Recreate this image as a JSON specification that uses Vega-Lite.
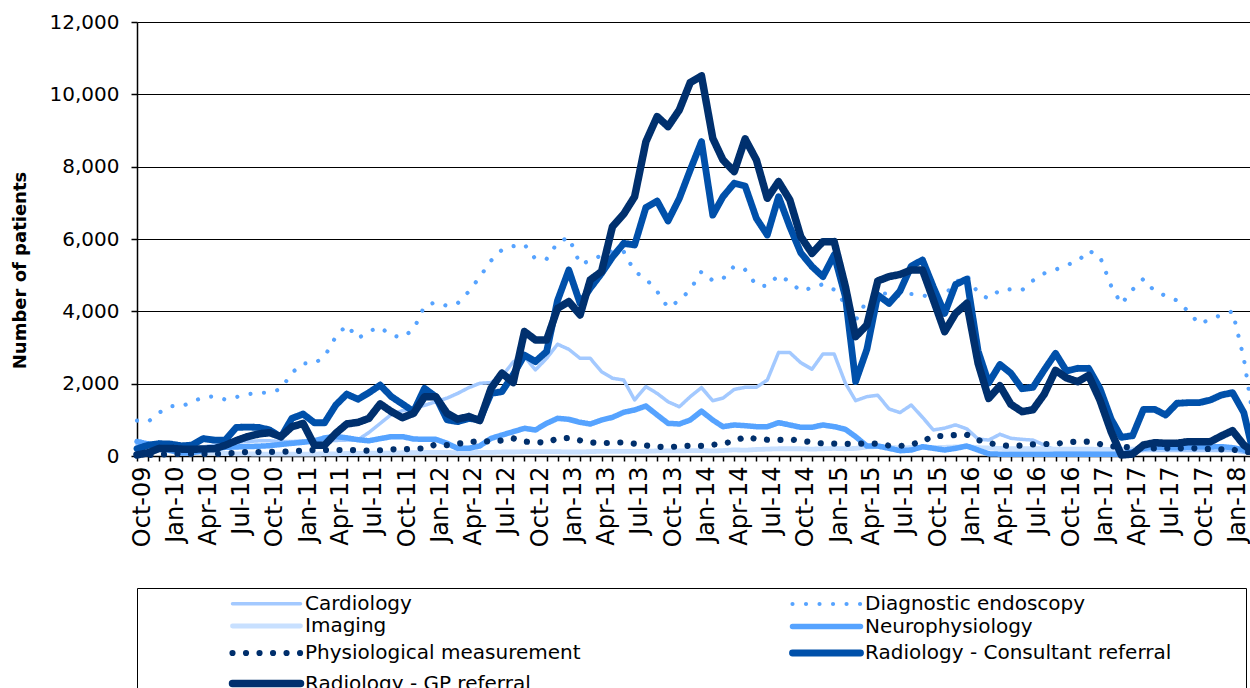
{
"$schema": "https://vega.github.io/schema/vega-lite/v6.json",
"autosize": {"type": "none"},
"padding": {"left": 137, "top": 22, "right": 0, "bottom": 232},
"width": 1113,
"height": 434,
"background": "white",
"config": {"view": {"stroke": null}, "font": "DejaVu Sans"},
"datasets": {"rows": [
{"s":"Cardiology","d":"2009-10-01","v":300},{"s":"Cardiology","d":"2009-11-01","v":250},{"s":"Cardiology","d":"2009-12-01","v":230},{"s":"Cardiology","d":"2010-01-01","v":220},{"s":"Cardiology","d":"2010-02-01","v":200},{"s":"Cardiology","d":"2010-03-01","v":220},{"s":"Cardiology","d":"2010-04-01","v":250},{"s":"Cardiology","d":"2010-05-01","v":300},{"s":"Cardiology","d":"2010-06-01","v":350},{"s":"Cardiology","d":"2010-07-01","v":380},{"s":"Cardiology","d":"2010-08-01","v":400},{"s":"Cardiology","d":"2010-09-01","v":420},{"s":"Cardiology","d":"2010-10-01","v":420},{"s":"Cardiology","d":"2010-11-01","v":400},{"s":"Cardiology","d":"2010-12-01","v":400},{"s":"Cardiology","d":"2011-01-01","v":420},{"s":"Cardiology","d":"2011-02-01","v":420},{"s":"Cardiology","d":"2011-03-01","v":430},{"s":"Cardiology","d":"2011-04-01","v":430},{"s":"Cardiology","d":"2011-05-01","v":440},{"s":"Cardiology","d":"2011-06-01","v":450},{"s":"Cardiology","d":"2011-07-01","v":650},{"s":"Cardiology","d":"2011-08-01","v":900},{"s":"Cardiology","d":"2011-09-01","v":1150},{"s":"Cardiology","d":"2011-10-01","v":1250},{"s":"Cardiology","d":"2011-11-01","v":1320},{"s":"Cardiology","d":"2011-12-01","v":1400},{"s":"Cardiology","d":"2012-01-01","v":1500},{"s":"Cardiology","d":"2012-02-01","v":1600},{"s":"Cardiology","d":"2012-03-01","v":1730},{"s":"Cardiology","d":"2012-04-01","v":1890},{"s":"Cardiology","d":"2012-05-01","v":2010},{"s":"Cardiology","d":"2012-06-01","v":2030},{"s":"Cardiology","d":"2012-07-01","v":2200},{"s":"Cardiology","d":"2012-08-01","v":2600},{"s":"Cardiology","d":"2012-09-01","v":2750},{"s":"Cardiology","d":"2012-10-01","v":2380},{"s":"Cardiology","d":"2012-11-01","v":2700},{"s":"Cardiology","d":"2012-12-01","v":3090},{"s":"Cardiology","d":"2013-01-01","v":2950},{"s":"Cardiology","d":"2013-02-01","v":2700},{"s":"Cardiology","d":"2013-03-01","v":2700},{"s":"Cardiology","d":"2013-04-01","v":2330},{"s":"Cardiology","d":"2013-05-01","v":2150},{"s":"Cardiology","d":"2013-06-01","v":2100},{"s":"Cardiology","d":"2013-07-01","v":1550},{"s":"Cardiology","d":"2013-08-01","v":1920},{"s":"Cardiology","d":"2013-09-01","v":1730},{"s":"Cardiology","d":"2013-10-01","v":1500},{"s":"Cardiology","d":"2013-11-01","v":1360},{"s":"Cardiology","d":"2013-12-01","v":1640},{"s":"Cardiology","d":"2014-01-01","v":1890},{"s":"Cardiology","d":"2014-02-01","v":1530},{"s":"Cardiology","d":"2014-03-01","v":1600},{"s":"Cardiology","d":"2014-04-01","v":1840},{"s":"Cardiology","d":"2014-05-01","v":1900},{"s":"Cardiology","d":"2014-06-01","v":1900},{"s":"Cardiology","d":"2014-07-01","v":2100},{"s":"Cardiology","d":"2014-08-01","v":2860},{"s":"Cardiology","d":"2014-09-01","v":2860},{"s":"Cardiology","d":"2014-10-01","v":2580},{"s":"Cardiology","d":"2014-11-01","v":2400},{"s":"Cardiology","d":"2014-12-01","v":2820},{"s":"Cardiology","d":"2015-01-01","v":2820},{"s":"Cardiology","d":"2015-02-01","v":2010},{"s":"Cardiology","d":"2015-03-01","v":1530},{"s":"Cardiology","d":"2015-04-01","v":1640},{"s":"Cardiology","d":"2015-05-01","v":1680},{"s":"Cardiology","d":"2015-06-01","v":1300},{"s":"Cardiology","d":"2015-07-01","v":1200},{"s":"Cardiology","d":"2015-08-01","v":1410},{"s":"Cardiology","d":"2015-09-01","v":1070},{"s":"Cardiology","d":"2015-10-01","v":720},{"s":"Cardiology","d":"2015-11-01","v":770},{"s":"Cardiology","d":"2015-12-01","v":860},{"s":"Cardiology","d":"2016-01-01","v":750},{"s":"Cardiology","d":"2016-02-01","v":470},{"s":"Cardiology","d":"2016-03-01","v":440},{"s":"Cardiology","d":"2016-04-01","v":600},{"s":"Cardiology","d":"2016-05-01","v":490},{"s":"Cardiology","d":"2016-06-01","v":460},{"s":"Cardiology","d":"2016-07-01","v":440},{"s":"Cardiology","d":"2016-08-01","v":300},{"s":"Cardiology","d":"2016-09-01","v":150},{"s":"Cardiology","d":"2016-10-01","v":120},{"s":"Cardiology","d":"2016-11-01","v":100},{"s":"Cardiology","d":"2016-12-01","v":100},{"s":"Cardiology","d":"2017-01-01","v":100},{"s":"Cardiology","d":"2017-02-01","v":100},{"s":"Cardiology","d":"2017-03-01","v":100},{"s":"Cardiology","d":"2017-04-01","v":120},{"s":"Cardiology","d":"2017-05-01","v":150},{"s":"Cardiology","d":"2017-06-01","v":150},{"s":"Cardiology","d":"2017-07-01","v":150},{"s":"Cardiology","d":"2017-08-01","v":150},{"s":"Cardiology","d":"2017-09-01","v":150},{"s":"Cardiology","d":"2017-10-01","v":150},{"s":"Cardiology","d":"2017-11-01","v":150},{"s":"Cardiology","d":"2017-12-01","v":150},{"s":"Cardiology","d":"2018-01-01","v":150},{"s":"Cardiology","d":"2018-02-01","v":100},{"s":"Cardiology","d":"2018-03-01","v":80},
{"s":"Diagnostic endoscopy","d":"2009-10-01","v":980},{"s":"Diagnostic endoscopy","d":"2009-11-01","v":950},{"s":"Diagnostic endoscopy","d":"2009-12-01","v":1200},{"s":"Diagnostic endoscopy","d":"2010-01-01","v":1380},{"s":"Diagnostic endoscopy","d":"2010-02-01","v":1370},{"s":"Diagnostic endoscopy","d":"2010-03-01","v":1500},{"s":"Diagnostic endoscopy","d":"2010-04-01","v":1620},{"s":"Diagnostic endoscopy","d":"2010-05-01","v":1650},{"s":"Diagnostic endoscopy","d":"2010-06-01","v":1560},{"s":"Diagnostic endoscopy","d":"2010-07-01","v":1630},{"s":"Diagnostic endoscopy","d":"2010-08-01","v":1710},{"s":"Diagnostic endoscopy","d":"2010-09-01","v":1740},{"s":"Diagnostic endoscopy","d":"2010-10-01","v":1760},{"s":"Diagnostic endoscopy","d":"2010-11-01","v":1850},{"s":"Diagnostic endoscopy","d":"2010-12-01","v":2300},{"s":"Diagnostic endoscopy","d":"2011-01-01","v":2560},{"s":"Diagnostic endoscopy","d":"2011-02-01","v":2560},{"s":"Diagnostic endoscopy","d":"2011-03-01","v":2750},{"s":"Diagnostic endoscopy","d":"2011-04-01","v":3300},{"s":"Diagnostic endoscopy","d":"2011-05-01","v":3620},{"s":"Diagnostic endoscopy","d":"2011-06-01","v":3250},{"s":"Diagnostic endoscopy","d":"2011-07-01","v":3450},{"s":"Diagnostic endoscopy","d":"2011-08-01","v":3560},{"s":"Diagnostic endoscopy","d":"2011-09-01","v":3330},{"s":"Diagnostic endoscopy","d":"2011-10-01","v":3280},{"s":"Diagnostic endoscopy","d":"2011-11-01","v":3500},{"s":"Diagnostic endoscopy","d":"2011-12-01","v":4150},{"s":"Diagnostic endoscopy","d":"2012-01-01","v":4250},{"s":"Diagnostic endoscopy","d":"2012-02-01","v":4150},{"s":"Diagnostic endoscopy","d":"2012-03-01","v":4220},{"s":"Diagnostic endoscopy","d":"2012-04-01","v":4550},{"s":"Diagnostic endoscopy","d":"2012-05-01","v":4950},{"s":"Diagnostic endoscopy","d":"2012-06-01","v":5400},{"s":"Diagnostic endoscopy","d":"2012-07-01","v":5700},{"s":"Diagnostic endoscopy","d":"2012-08-01","v":5800},{"s":"Diagnostic endoscopy","d":"2012-09-01","v":5850},{"s":"Diagnostic endoscopy","d":"2012-10-01","v":5450},{"s":"Diagnostic endoscopy","d":"2012-11-01","v":5450},{"s":"Diagnostic endoscopy","d":"2012-12-01","v":5900},{"s":"Diagnostic endoscopy","d":"2013-01-01","v":6050},{"s":"Diagnostic endoscopy","d":"2013-02-01","v":5300},{"s":"Diagnostic endoscopy","d":"2013-03-01","v":5400},{"s":"Diagnostic endoscopy","d":"2013-04-01","v":5550},{"s":"Diagnostic endoscopy","d":"2013-05-01","v":5670},{"s":"Diagnostic endoscopy","d":"2013-06-01","v":5650},{"s":"Diagnostic endoscopy","d":"2013-07-01","v":5100},{"s":"Diagnostic endoscopy","d":"2013-08-01","v":4900},{"s":"Diagnostic endoscopy","d":"2013-09-01","v":4550},{"s":"Diagnostic endoscopy","d":"2013-10-01","v":4100},{"s":"Diagnostic endoscopy","d":"2013-11-01","v":4300},{"s":"Diagnostic endoscopy","d":"2013-12-01","v":4600},{"s":"Diagnostic endoscopy","d":"2014-01-01","v":5100},{"s":"Diagnostic endoscopy","d":"2014-02-01","v":4850},{"s":"Diagnostic endoscopy","d":"2014-03-01","v":4900},{"s":"Diagnostic endoscopy","d":"2014-04-01","v":5250},{"s":"Diagnostic endoscopy","d":"2014-05-01","v":5150},{"s":"Diagnostic endoscopy","d":"2014-06-01","v":4720},{"s":"Diagnostic endoscopy","d":"2014-07-01","v":4700},{"s":"Diagnostic endoscopy","d":"2014-08-01","v":5000},{"s":"Diagnostic endoscopy","d":"2014-09-01","v":4820},{"s":"Diagnostic endoscopy","d":"2014-10-01","v":4560},{"s":"Diagnostic endoscopy","d":"2014-11-01","v":4650},{"s":"Diagnostic endoscopy","d":"2014-12-01","v":4750},{"s":"Diagnostic endoscopy","d":"2015-01-01","v":4600},{"s":"Diagnostic endoscopy","d":"2015-02-01","v":4200},{"s":"Diagnostic endoscopy","d":"2015-03-01","v":3750},{"s":"Diagnostic endoscopy","d":"2015-04-01","v":4300},{"s":"Diagnostic endoscopy","d":"2015-05-01","v":4480},{"s":"Diagnostic endoscopy","d":"2015-06-01","v":4500},{"s":"Diagnostic endoscopy","d":"2015-07-01","v":4420},{"s":"Diagnostic endoscopy","d":"2015-08-01","v":4480},{"s":"Diagnostic endoscopy","d":"2015-09-01","v":4450},{"s":"Diagnostic endoscopy","d":"2015-10-01","v":4350},{"s":"Diagnostic endoscopy","d":"2015-11-01","v":4450},{"s":"Diagnostic endoscopy","d":"2015-12-01","v":4800},{"s":"Diagnostic endoscopy","d":"2016-01-01","v":5000},{"s":"Diagnostic endoscopy","d":"2016-02-01","v":4500},{"s":"Diagnostic endoscopy","d":"2016-03-01","v":4350},{"s":"Diagnostic endoscopy","d":"2016-04-01","v":4590},{"s":"Diagnostic endoscopy","d":"2016-05-01","v":4610},{"s":"Diagnostic endoscopy","d":"2016-06-01","v":4590},{"s":"Diagnostic endoscopy","d":"2016-07-01","v":4850},{"s":"Diagnostic endoscopy","d":"2016-08-01","v":5050},{"s":"Diagnostic endoscopy","d":"2016-09-01","v":5150},{"s":"Diagnostic endoscopy","d":"2016-10-01","v":5280},{"s":"Diagnostic endoscopy","d":"2016-11-01","v":5380},{"s":"Diagnostic endoscopy","d":"2016-12-01","v":5680},{"s":"Diagnostic endoscopy","d":"2017-01-01","v":5520},{"s":"Diagnostic endoscopy","d":"2017-02-01","v":4700},{"s":"Diagnostic endoscopy","d":"2017-03-01","v":4200},{"s":"Diagnostic endoscopy","d":"2017-04-01","v":4600},{"s":"Diagnostic endoscopy","d":"2017-05-01","v":4900},{"s":"Diagnostic endoscopy","d":"2017-06-01","v":4550},{"s":"Diagnostic endoscopy","d":"2017-07-01","v":4430},{"s":"Diagnostic endoscopy","d":"2017-08-01","v":4300},{"s":"Diagnostic endoscopy","d":"2017-09-01","v":4000},{"s":"Diagnostic endoscopy","d":"2017-10-01","v":3650},{"s":"Diagnostic endoscopy","d":"2017-11-01","v":3780},{"s":"Diagnostic endoscopy","d":"2017-12-01","v":3900},{"s":"Diagnostic endoscopy","d":"2018-01-01","v":4000},{"s":"Diagnostic endoscopy","d":"2018-02-01","v":2700},{"s":"Diagnostic endoscopy","d":"2018-03-01","v":900},
{"s":"Imaging","d":"2009-10-01","v":220},{"s":"Imaging","d":"2009-11-01","v":200},{"s":"Imaging","d":"2009-12-01","v":170},{"s":"Imaging","d":"2010-01-01","v":140},{"s":"Imaging","d":"2010-02-01","v":120},{"s":"Imaging","d":"2010-03-01","v":100},{"s":"Imaging","d":"2010-04-01","v":90},{"s":"Imaging","d":"2010-05-01","v":80},{"s":"Imaging","d":"2010-06-01","v":70},{"s":"Imaging","d":"2010-07-01","v":60},{"s":"Imaging","d":"2010-08-01","v":60},{"s":"Imaging","d":"2010-09-01","v":50},{"s":"Imaging","d":"2010-10-01","v":50},{"s":"Imaging","d":"2010-11-01","v":50},{"s":"Imaging","d":"2010-12-01","v":50},{"s":"Imaging","d":"2011-01-01","v":50},{"s":"Imaging","d":"2011-02-01","v":50},{"s":"Imaging","d":"2011-03-01","v":60},{"s":"Imaging","d":"2011-04-01","v":60},{"s":"Imaging","d":"2011-05-01","v":70},{"s":"Imaging","d":"2011-06-01","v":70},{"s":"Imaging","d":"2011-07-01","v":80},{"s":"Imaging","d":"2011-08-01","v":80},{"s":"Imaging","d":"2011-09-01","v":80},{"s":"Imaging","d":"2011-10-01","v":90},{"s":"Imaging","d":"2011-11-01","v":90},{"s":"Imaging","d":"2011-12-01","v":100},{"s":"Imaging","d":"2012-01-01","v":100},{"s":"Imaging","d":"2012-02-01","v":100},{"s":"Imaging","d":"2012-03-01","v":90},{"s":"Imaging","d":"2012-04-01","v":90},{"s":"Imaging","d":"2012-05-01","v":100},{"s":"Imaging","d":"2012-06-01","v":100},{"s":"Imaging","d":"2012-07-01","v":110},{"s":"Imaging","d":"2012-08-01","v":110},{"s":"Imaging","d":"2012-09-01","v":120},{"s":"Imaging","d":"2012-10-01","v":120},{"s":"Imaging","d":"2012-11-01","v":120},{"s":"Imaging","d":"2012-12-01","v":120},{"s":"Imaging","d":"2013-01-01","v":110},{"s":"Imaging","d":"2013-02-01","v":110},{"s":"Imaging","d":"2013-03-01","v":120},{"s":"Imaging","d":"2013-04-01","v":130},{"s":"Imaging","d":"2013-05-01","v":130},{"s":"Imaging","d":"2013-06-01","v":130},{"s":"Imaging","d":"2013-07-01","v":130},{"s":"Imaging","d":"2013-08-01","v":130},{"s":"Imaging","d":"2013-09-01","v":140},{"s":"Imaging","d":"2013-10-01","v":140},{"s":"Imaging","d":"2013-11-01","v":140},{"s":"Imaging","d":"2013-12-01","v":150},{"s":"Imaging","d":"2014-01-01","v":150},{"s":"Imaging","d":"2014-02-01","v":140},{"s":"Imaging","d":"2014-03-01","v":150},{"s":"Imaging","d":"2014-04-01","v":170},{"s":"Imaging","d":"2014-05-01","v":160},{"s":"Imaging","d":"2014-06-01","v":180},{"s":"Imaging","d":"2014-07-01","v":190},{"s":"Imaging","d":"2014-08-01","v":200},{"s":"Imaging","d":"2014-09-01","v":200},{"s":"Imaging","d":"2014-10-01","v":200},{"s":"Imaging","d":"2014-11-01","v":190},{"s":"Imaging","d":"2014-12-01","v":200},{"s":"Imaging","d":"2015-01-01","v":210},{"s":"Imaging","d":"2015-02-01","v":200},{"s":"Imaging","d":"2015-03-01","v":210},{"s":"Imaging","d":"2015-04-01","v":250},{"s":"Imaging","d":"2015-05-01","v":260},{"s":"Imaging","d":"2015-06-01","v":240},{"s":"Imaging","d":"2015-07-01","v":220},{"s":"Imaging","d":"2015-08-01","v":230},{"s":"Imaging","d":"2015-09-01","v":240},{"s":"Imaging","d":"2015-10-01","v":230},{"s":"Imaging","d":"2015-11-01","v":240},{"s":"Imaging","d":"2015-12-01","v":250},{"s":"Imaging","d":"2016-01-01","v":260},{"s":"Imaging","d":"2016-02-01","v":230},{"s":"Imaging","d":"2016-03-01","v":220},{"s":"Imaging","d":"2016-04-01","v":210},{"s":"Imaging","d":"2016-05-01","v":200},{"s":"Imaging","d":"2016-06-01","v":200},{"s":"Imaging","d":"2016-07-01","v":200},{"s":"Imaging","d":"2016-08-01","v":200},{"s":"Imaging","d":"2016-09-01","v":190},{"s":"Imaging","d":"2016-10-01","v":190},{"s":"Imaging","d":"2016-11-01","v":190},{"s":"Imaging","d":"2016-12-01","v":190},{"s":"Imaging","d":"2017-01-01","v":180},{"s":"Imaging","d":"2017-02-01","v":180},{"s":"Imaging","d":"2017-03-01","v":180},{"s":"Imaging","d":"2017-04-01","v":190},{"s":"Imaging","d":"2017-05-01","v":200},{"s":"Imaging","d":"2017-06-01","v":200},{"s":"Imaging","d":"2017-07-01","v":210},{"s":"Imaging","d":"2017-08-01","v":220},{"s":"Imaging","d":"2017-09-01","v":230},{"s":"Imaging","d":"2017-10-01","v":230},{"s":"Imaging","d":"2017-11-01","v":230},{"s":"Imaging","d":"2017-12-01","v":240},{"s":"Imaging","d":"2018-01-01","v":220},{"s":"Imaging","d":"2018-02-01","v":180},{"s":"Imaging","d":"2018-03-01","v":150},
{"s":"Neurophysiology","d":"2009-10-01","v":400},{"s":"Neurophysiology","d":"2009-11-01","v":330},{"s":"Neurophysiology","d":"2009-12-01","v":250},{"s":"Neurophysiology","d":"2010-01-01","v":150},{"s":"Neurophysiology","d":"2010-02-01","v":80},{"s":"Neurophysiology","d":"2010-03-01","v":90},{"s":"Neurophysiology","d":"2010-04-01","v":150},{"s":"Neurophysiology","d":"2010-05-01","v":200},{"s":"Neurophysiology","d":"2010-06-01","v":240},{"s":"Neurophysiology","d":"2010-07-01","v":250},{"s":"Neurophysiology","d":"2010-08-01","v":260},{"s":"Neurophysiology","d":"2010-09-01","v":270},{"s":"Neurophysiology","d":"2010-10-01","v":285},{"s":"Neurophysiology","d":"2010-11-01","v":320},{"s":"Neurophysiology","d":"2010-12-01","v":350},{"s":"Neurophysiology","d":"2011-01-01","v":380},{"s":"Neurophysiology","d":"2011-02-01","v":420},{"s":"Neurophysiology","d":"2011-03-01","v":500},{"s":"Neurophysiology","d":"2011-04-01","v":540},{"s":"Neurophysiology","d":"2011-05-01","v":500},{"s":"Neurophysiology","d":"2011-06-01","v":450},{"s":"Neurophysiology","d":"2011-07-01","v":420},{"s":"Neurophysiology","d":"2011-08-01","v":480},{"s":"Neurophysiology","d":"2011-09-01","v":535},{"s":"Neurophysiology","d":"2011-10-01","v":535},{"s":"Neurophysiology","d":"2011-11-01","v":470},{"s":"Neurophysiology","d":"2011-12-01","v":461},{"s":"Neurophysiology","d":"2012-01-01","v":461},{"s":"Neurophysiology","d":"2012-02-01","v":350},{"s":"Neurophysiology","d":"2012-03-01","v":212},{"s":"Neurophysiology","d":"2012-04-01","v":212},{"s":"Neurophysiology","d":"2012-05-01","v":277},{"s":"Neurophysiology","d":"2012-06-01","v":488},{"s":"Neurophysiology","d":"2012-07-01","v":580},{"s":"Neurophysiology","d":"2012-08-01","v":673},{"s":"Neurophysiology","d":"2012-09-01","v":765},{"s":"Neurophysiology","d":"2012-10-01","v":719},{"s":"Neurophysiology","d":"2012-11-01","v":903},{"s":"Neurophysiology","d":"2012-12-01","v":1041},{"s":"Neurophysiology","d":"2013-01-01","v":1014},{"s":"Neurophysiology","d":"2013-02-01","v":931},{"s":"Neurophysiology","d":"2013-03-01","v":885},{"s":"Neurophysiology","d":"2013-04-01","v":995},{"s":"Neurophysiology","d":"2013-05-01","v":1069},{"s":"Neurophysiology","d":"2013-06-01","v":1208},{"s":"Neurophysiology","d":"2013-07-01","v":1272},{"s":"Neurophysiology","d":"2013-08-01","v":1382},{"s":"Neurophysiology","d":"2013-09-01","v":1134},{"s":"Neurophysiology","d":"2013-10-01","v":903},{"s":"Neurophysiology","d":"2013-11-01","v":885},{"s":"Neurophysiology","d":"2013-12-01","v":995},{"s":"Neurophysiology","d":"2014-01-01","v":1240},{"s":"Neurophysiology","d":"2014-02-01","v":995},{"s":"Neurophysiology","d":"2014-03-01","v":811},{"s":"Neurophysiology","d":"2014-04-01","v":857},{"s":"Neurophysiology","d":"2014-05-01","v":839},{"s":"Neurophysiology","d":"2014-06-01","v":811},{"s":"Neurophysiology","d":"2014-07-01","v":811},{"s":"Neurophysiology","d":"2014-08-01","v":922},{"s":"Neurophysiology","d":"2014-09-01","v":857},{"s":"Neurophysiology","d":"2014-10-01","v":793},{"s":"Neurophysiology","d":"2014-11-01","v":793},{"s":"Neurophysiology","d":"2014-12-01","v":857},{"s":"Neurophysiology","d":"2015-01-01","v":811},{"s":"Neurophysiology","d":"2015-02-01","v":737},{"s":"Neurophysiology","d":"2015-03-01","v":535},{"s":"Neurophysiology","d":"2015-04-01","v":276},{"s":"Neurophysiology","d":"2015-05-01","v":276},{"s":"Neurophysiology","d":"2015-06-01","v":212},{"s":"Neurophysiology","d":"2015-07-01","v":147},{"s":"Neurophysiology","d":"2015-08-01","v":166},{"s":"Neurophysiology","d":"2015-09-01","v":258},{"s":"Neurophysiology","d":"2015-10-01","v":212},{"s":"Neurophysiology","d":"2015-11-01","v":166},{"s":"Neurophysiology","d":"2015-12-01","v":212},{"s":"Neurophysiology","d":"2016-01-01","v":276},{"s":"Neurophysiology","d":"2016-02-01","v":166},{"s":"Neurophysiology","d":"2016-03-01","v":60},{"s":"Neurophysiology","d":"2016-04-01","v":50},{"s":"Neurophysiology","d":"2016-05-01","v":50},{"s":"Neurophysiology","d":"2016-06-01","v":50},{"s":"Neurophysiology","d":"2016-07-01","v":50},{"s":"Neurophysiology","d":"2016-08-01","v":50},{"s":"Neurophysiology","d":"2016-09-01","v":50},{"s":"Neurophysiology","d":"2016-10-01","v":50},{"s":"Neurophysiology","d":"2016-11-01","v":50},{"s":"Neurophysiology","d":"2016-12-01","v":50},{"s":"Neurophysiology","d":"2017-01-01","v":50},{"s":"Neurophysiology","d":"2017-02-01","v":50},{"s":"Neurophysiology","d":"2017-03-01","v":50},{"s":"Neurophysiology","d":"2017-04-01","v":120},{"s":"Neurophysiology","d":"2017-05-01","v":212},{"s":"Neurophysiology","d":"2017-06-01","v":240},{"s":"Neurophysiology","d":"2017-07-01","v":230},{"s":"Neurophysiology","d":"2017-08-01","v":230},{"s":"Neurophysiology","d":"2017-09-01","v":240},{"s":"Neurophysiology","d":"2017-10-01","v":250},{"s":"Neurophysiology","d":"2017-11-01","v":250},{"s":"Neurophysiology","d":"2017-12-01","v":258},{"s":"Neurophysiology","d":"2018-01-01","v":230},{"s":"Neurophysiology","d":"2018-02-01","v":166},{"s":"Neurophysiology","d":"2018-03-01","v":60},
{"s":"Physiological measurement","d":"2009-10-01","v":20},{"s":"Physiological measurement","d":"2009-11-01","v":30},{"s":"Physiological measurement","d":"2009-12-01","v":40},{"s":"Physiological measurement","d":"2010-01-01","v":55},{"s":"Physiological measurement","d":"2010-02-01","v":55},{"s":"Physiological measurement","d":"2010-03-01","v":55},{"s":"Physiological measurement","d":"2010-04-01","v":55},{"s":"Physiological measurement","d":"2010-05-01","v":55},{"s":"Physiological measurement","d":"2010-06-01","v":65},{"s":"Physiological measurement","d":"2010-07-01","v":90},{"s":"Physiological measurement","d":"2010-08-01","v":111},{"s":"Physiological measurement","d":"2010-09-01","v":111},{"s":"Physiological measurement","d":"2010-10-01","v":111},{"s":"Physiological measurement","d":"2010-11-01","v":115},{"s":"Physiological measurement","d":"2010-12-01","v":130},{"s":"Physiological measurement","d":"2011-01-01","v":150},{"s":"Physiological measurement","d":"2011-02-01","v":166},{"s":"Physiological measurement","d":"2011-03-01","v":166},{"s":"Physiological measurement","d":"2011-04-01","v":166},{"s":"Physiological measurement","d":"2011-05-01","v":166},{"s":"Physiological measurement","d":"2011-06-01","v":160},{"s":"Physiological measurement","d":"2011-07-01","v":145},{"s":"Physiological measurement","d":"2011-08-01","v":160},{"s":"Physiological measurement","d":"2011-09-01","v":184},{"s":"Physiological measurement","d":"2011-10-01","v":184},{"s":"Physiological measurement","d":"2011-11-01","v":200},{"s":"Physiological measurement","d":"2011-12-01","v":212},{"s":"Physiological measurement","d":"2012-01-01","v":320},{"s":"Physiological measurement","d":"2012-02-01","v":300},{"s":"Physiological measurement","d":"2012-03-01","v":340},{"s":"Physiological measurement","d":"2012-04-01","v":380},{"s":"Physiological measurement","d":"2012-05-01","v":415},{"s":"Physiological measurement","d":"2012-06-01","v":400},{"s":"Physiological measurement","d":"2012-07-01","v":430},{"s":"Physiological measurement","d":"2012-08-01","v":488},{"s":"Physiological measurement","d":"2012-09-01","v":400},{"s":"Physiological measurement","d":"2012-10-01","v":378},{"s":"Physiological measurement","d":"2012-11-01","v":378},{"s":"Physiological measurement","d":"2012-12-01","v":480},{"s":"Physiological measurement","d":"2013-01-01","v":500},{"s":"Physiological measurement","d":"2013-02-01","v":430},{"s":"Physiological measurement","d":"2013-03-01","v":378},{"s":"Physiological measurement","d":"2013-04-01","v":355},{"s":"Physiological measurement","d":"2013-05-01","v":365},{"s":"Physiological measurement","d":"2013-06-01","v":378},{"s":"Physiological measurement","d":"2013-07-01","v":340},{"s":"Physiological measurement","d":"2013-08-01","v":290},{"s":"Physiological measurement","d":"2013-09-01","v":260},{"s":"Physiological measurement","d":"2013-10-01","v":240},{"s":"Physiological measurement","d":"2013-11-01","v":270},{"s":"Physiological measurement","d":"2013-12-01","v":286},{"s":"Physiological measurement","d":"2014-01-01","v":280},{"s":"Physiological measurement","d":"2014-02-01","v":310},{"s":"Physiological measurement","d":"2014-03-01","v":350},{"s":"Physiological measurement","d":"2014-04-01","v":400},{"s":"Physiological measurement","d":"2014-05-01","v":535},{"s":"Physiological measurement","d":"2014-06-01","v":470},{"s":"Physiological measurement","d":"2014-07-01","v":450},{"s":"Physiological measurement","d":"2014-08-01","v":445},{"s":"Physiological measurement","d":"2014-09-01","v":461},{"s":"Physiological measurement","d":"2014-10-01","v":420},{"s":"Physiological measurement","d":"2014-11-01","v":380},{"s":"Physiological measurement","d":"2014-12-01","v":345},{"s":"Physiological measurement","d":"2015-01-01","v":341},{"s":"Physiological measurement","d":"2015-02-01","v":338},{"s":"Physiological measurement","d":"2015-03-01","v":332},{"s":"Physiological measurement","d":"2015-04-01","v":350},{"s":"Physiological measurement","d":"2015-05-01","v":340},{"s":"Physiological measurement","d":"2015-06-01","v":286},{"s":"Physiological measurement","d":"2015-07-01","v":278},{"s":"Physiological measurement","d":"2015-08-01","v":320},{"s":"Physiological measurement","d":"2015-09-01","v":400},{"s":"Physiological measurement","d":"2015-10-01","v":553},{"s":"Physiological measurement","d":"2015-11-01","v":553},{"s":"Physiological measurement","d":"2015-12-01","v":580},{"s":"Physiological measurement","d":"2016-01-01","v":590},{"s":"Physiological measurement","d":"2016-02-01","v":442},{"s":"Physiological measurement","d":"2016-03-01","v":360},{"s":"Physiological measurement","d":"2016-04-01","v":300},{"s":"Physiological measurement","d":"2016-05-01","v":276},{"s":"Physiological measurement","d":"2016-06-01","v":290},{"s":"Physiological measurement","d":"2016-07-01","v":320},{"s":"Physiological measurement","d":"2016-08-01","v":332},{"s":"Physiological measurement","d":"2016-09-01","v":332},{"s":"Physiological measurement","d":"2016-10-01","v":380},{"s":"Physiological measurement","d":"2016-11-01","v":396},{"s":"Physiological measurement","d":"2016-12-01","v":396},{"s":"Physiological measurement","d":"2017-01-01","v":330},{"s":"Physiological measurement","d":"2017-02-01","v":270},{"s":"Physiological measurement","d":"2017-03-01","v":255},{"s":"Physiological measurement","d":"2017-04-01","v":240},{"s":"Physiological measurement","d":"2017-05-01","v":220},{"s":"Physiological measurement","d":"2017-06-01","v":212},{"s":"Physiological measurement","d":"2017-07-01","v":212},{"s":"Physiological measurement","d":"2017-08-01","v":212},{"s":"Physiological measurement","d":"2017-09-01","v":212},{"s":"Physiological measurement","d":"2017-10-01","v":212},{"s":"Physiological measurement","d":"2017-11-01","v":190},{"s":"Physiological measurement","d":"2017-12-01","v":184},{"s":"Physiological measurement","d":"2018-01-01","v":180},{"s":"Physiological measurement","d":"2018-02-01","v":120},{"s":"Physiological measurement","d":"2018-03-01","v":100},
{"s":"Radiology - Consultant referral","d":"2009-10-01","v":200},{"s":"Radiology - Consultant referral","d":"2009-11-01","v":300},{"s":"Radiology - Consultant referral","d":"2009-12-01","v":340},{"s":"Radiology - Consultant referral","d":"2010-01-01","v":330},{"s":"Radiology - Consultant referral","d":"2010-02-01","v":280},{"s":"Radiology - Consultant referral","d":"2010-03-01","v":300},{"s":"Radiology - Consultant referral","d":"2010-04-01","v":480},{"s":"Radiology - Consultant referral","d":"2010-05-01","v":440},{"s":"Radiology - Consultant referral","d":"2010-06-01","v":440},{"s":"Radiology - Consultant referral","d":"2010-07-01","v":790},{"s":"Radiology - Consultant referral","d":"2010-08-01","v":800},{"s":"Radiology - Consultant referral","d":"2010-09-01","v":790},{"s":"Radiology - Consultant referral","d":"2010-10-01","v":720},{"s":"Radiology - Consultant referral","d":"2010-11-01","v":520},{"s":"Radiology - Consultant referral","d":"2010-12-01","v":1040},{"s":"Radiology - Consultant referral","d":"2011-01-01","v":1160},{"s":"Radiology - Consultant referral","d":"2011-02-01","v":920},{"s":"Radiology - Consultant referral","d":"2011-03-01","v":920},{"s":"Radiology - Consultant referral","d":"2011-04-01","v":1410},{"s":"Radiology - Consultant referral","d":"2011-05-01","v":1710},{"s":"Radiology - Consultant referral","d":"2011-06-01","v":1570},{"s":"Radiology - Consultant referral","d":"2011-07-01","v":1750},{"s":"Radiology - Consultant referral","d":"2011-08-01","v":1960},{"s":"Radiology - Consultant referral","d":"2011-09-01","v":1640},{"s":"Radiology - Consultant referral","d":"2011-10-01","v":1440},{"s":"Radiology - Consultant referral","d":"2011-11-01","v":1230},{"s":"Radiology - Consultant referral","d":"2011-12-01","v":1870},{"s":"Radiology - Consultant referral","d":"2012-01-01","v":1640},{"s":"Radiology - Consultant referral","d":"2012-02-01","v":1000},{"s":"Radiology - Consultant referral","d":"2012-03-01","v":950},{"s":"Radiology - Consultant referral","d":"2012-04-01","v":1040},{"s":"Radiology - Consultant referral","d":"2012-05-01","v":1000},{"s":"Radiology - Consultant referral","d":"2012-06-01","v":1730},{"s":"Radiology - Consultant referral","d":"2012-07-01","v":1780},{"s":"Radiology - Consultant referral","d":"2012-08-01","v":2250},{"s":"Radiology - Consultant referral","d":"2012-09-01","v":2790},{"s":"Radiology - Consultant referral","d":"2012-10-01","v":2610},{"s":"Radiology - Consultant referral","d":"2012-11-01","v":2890},{"s":"Radiology - Consultant referral","d":"2012-12-01","v":4300},{"s":"Radiology - Consultant referral","d":"2013-01-01","v":5140},{"s":"Radiology - Consultant referral","d":"2013-02-01","v":4220},{"s":"Radiology - Consultant referral","d":"2013-03-01","v":4640},{"s":"Radiology - Consultant referral","d":"2013-04-01","v":5050},{"s":"Radiology - Consultant referral","d":"2013-05-01","v":5500},{"s":"Radiology - Consultant referral","d":"2013-06-01","v":5880},{"s":"Radiology - Consultant referral","d":"2013-07-01","v":5835},{"s":"Radiology - Consultant referral","d":"2013-08-01","v":6870},{"s":"Radiology - Consultant referral","d":"2013-09-01","v":7050},{"s":"Radiology - Consultant referral","d":"2013-10-01","v":6500},{"s":"Radiology - Consultant referral","d":"2013-11-01","v":7120},{"s":"Radiology - Consultant referral","d":"2013-12-01","v":7910},{"s":"Radiology - Consultant referral","d":"2014-01-01","v":8690},{"s":"Radiology - Consultant referral","d":"2014-02-01","v":6660},{"s":"Radiology - Consultant referral","d":"2014-03-01","v":7170},{"s":"Radiology - Consultant referral","d":"2014-04-01","v":7540},{"s":"Radiology - Consultant referral","d":"2014-05-01","v":7466},{"s":"Radiology - Consultant referral","d":"2014-06-01","v":6570},{"s":"Radiology - Consultant referral","d":"2014-07-01","v":6110},{"s":"Radiology - Consultant referral","d":"2014-08-01","v":7170},{"s":"Radiology - Consultant referral","d":"2014-09-01","v":6340},{"s":"Radiology - Consultant referral","d":"2014-10-01","v":5620},{"s":"Radiology - Consultant referral","d":"2014-11-01","v":5240},{"s":"Radiology - Consultant referral","d":"2014-12-01","v":4960},{"s":"Radiology - Consultant referral","d":"2015-01-01","v":5560},{"s":"Radiology - Consultant referral","d":"2015-02-01","v":4400},{"s":"Radiology - Consultant referral","d":"2015-03-01","v":2060},{"s":"Radiology - Consultant referral","d":"2015-04-01","v":2950},{"s":"Radiology - Consultant referral","d":"2015-05-01","v":4450},{"s":"Radiology - Consultant referral","d":"2015-06-01","v":4220},{"s":"Radiology - Consultant referral","d":"2015-07-01","v":4560},{"s":"Radiology - Consultant referral","d":"2015-08-01","v":5250},{"s":"Radiology - Consultant referral","d":"2015-09-01","v":5420},{"s":"Radiology - Consultant referral","d":"2015-10-01","v":4670},{"s":"Radiology - Consultant referral","d":"2015-11-01","v":3944},{"s":"Radiology - Consultant referral","d":"2015-12-01","v":4740},{"s":"Radiology - Consultant referral","d":"2016-01-01","v":4894},{"s":"Radiology - Consultant referral","d":"2016-02-01","v":2900},{"s":"Radiology - Consultant referral","d":"2016-03-01","v":2020},{"s":"Radiology - Consultant referral","d":"2016-04-01","v":2530},{"s":"Radiology - Consultant referral","d":"2016-05-01","v":2290},{"s":"Radiology - Consultant referral","d":"2016-06-01","v":1860},{"s":"Radiology - Consultant referral","d":"2016-07-01","v":1900},{"s":"Radiology - Consultant referral","d":"2016-08-01","v":2380},{"s":"Radiology - Consultant referral","d":"2016-09-01","v":2839},{"s":"Radiology - Consultant referral","d":"2016-10-01","v":2350},{"s":"Radiology - Consultant referral","d":"2016-11-01","v":2424},{"s":"Radiology - Consultant referral","d":"2016-12-01","v":2424},{"s":"Radiology - Consultant referral","d":"2017-01-01","v":1870},{"s":"Radiology - Consultant referral","d":"2017-02-01","v":1020},{"s":"Radiology - Consultant referral","d":"2017-03-01","v":516},{"s":"Radiology - Consultant referral","d":"2017-04-01","v":562},{"s":"Radiology - Consultant referral","d":"2017-05-01","v":1290},{"s":"Radiology - Consultant referral","d":"2017-06-01","v":1290},{"s":"Radiology - Consultant referral","d":"2017-07-01","v":1134},{"s":"Radiology - Consultant referral","d":"2017-08-01","v":1456},{"s":"Radiology - Consultant referral","d":"2017-09-01","v":1475},{"s":"Radiology - Consultant referral","d":"2017-10-01","v":1475},{"s":"Radiology - Consultant referral","d":"2017-11-01","v":1548},{"s":"Radiology - Consultant referral","d":"2017-12-01","v":1686},{"s":"Radiology - Consultant referral","d":"2018-01-01","v":1751},{"s":"Radiology - Consultant referral","d":"2018-02-01","v":1200},{"s":"Radiology - Consultant referral","d":"2018-03-01","v":0},
{"s":"Radiology - GP referral","d":"2009-10-01","v":30},{"s":"Radiology - GP referral","d":"2009-11-01","v":90},{"s":"Radiology - GP referral","d":"2009-12-01","v":210},{"s":"Radiology - GP referral","d":"2010-01-01","v":210},{"s":"Radiology - GP referral","d":"2010-02-01","v":190},{"s":"Radiology - GP referral","d":"2010-03-01","v":185},{"s":"Radiology - GP referral","d":"2010-04-01","v":195},{"s":"Radiology - GP referral","d":"2010-05-01","v":200},{"s":"Radiology - GP referral","d":"2010-06-01","v":295},{"s":"Radiology - GP referral","d":"2010-07-01","v":425},{"s":"Radiology - GP referral","d":"2010-08-01","v":535},{"s":"Radiology - GP referral","d":"2010-09-01","v":610},{"s":"Radiology - GP referral","d":"2010-10-01","v":645},{"s":"Radiology - GP referral","d":"2010-11-01","v":535},{"s":"Radiology - GP referral","d":"2010-12-01","v":810},{"s":"Radiology - GP referral","d":"2011-01-01","v":900},{"s":"Radiology - GP referral","d":"2011-02-01","v":300},{"s":"Radiology - GP referral","d":"2011-03-01","v":300},{"s":"Radiology - GP referral","d":"2011-04-01","v":630},{"s":"Radiology - GP referral","d":"2011-05-01","v":885},{"s":"Radiology - GP referral","d":"2011-06-01","v":930},{"s":"Radiology - GP referral","d":"2011-07-01","v":1040},{"s":"Radiology - GP referral","d":"2011-08-01","v":1440},{"s":"Radiology - GP referral","d":"2011-09-01","v":1226},{"s":"Radiology - GP referral","d":"2011-10-01","v":1060},{"s":"Radiology - GP referral","d":"2011-11-01","v":1180},{"s":"Radiology - GP referral","d":"2011-12-01","v":1640},{"s":"Radiology - GP referral","d":"2012-01-01","v":1640},{"s":"Radiology - GP referral","d":"2012-02-01","v":1180},{"s":"Radiology - GP referral","d":"2012-03-01","v":1020},{"s":"Radiology - GP referral","d":"2012-04-01","v":1090},{"s":"Radiology - GP referral","d":"2012-05-01","v":980},{"s":"Radiology - GP referral","d":"2012-06-01","v":1870},{"s":"Radiology - GP referral","d":"2012-07-01","v":2290},{"s":"Radiology - GP referral","d":"2012-08-01","v":2030},{"s":"Radiology - GP referral","d":"2012-09-01","v":3440},{"s":"Radiology - GP referral","d":"2012-10-01","v":3210},{"s":"Radiology - GP referral","d":"2012-11-01","v":3210},{"s":"Radiology - GP referral","d":"2012-12-01","v":4080},{"s":"Radiology - GP referral","d":"2013-01-01","v":4270},{"s":"Radiology - GP referral","d":"2013-02-01","v":3900},{"s":"Radiology - GP referral","d":"2013-03-01","v":4870},{"s":"Radiology - GP referral","d":"2013-04-01","v":5100},{"s":"Radiology - GP referral","d":"2013-05-01","v":6340},{"s":"Radiology - GP referral","d":"2013-06-01","v":6690},{"s":"Radiology - GP referral","d":"2013-07-01","v":7170},{"s":"Radiology - GP referral","d":"2013-08-01","v":8690},{"s":"Radiology - GP referral","d":"2013-09-01","v":9385},{"s":"Radiology - GP referral","d":"2013-10-01","v":9108},{"s":"Radiology - GP referral","d":"2013-11-01","v":9569},{"s":"Radiology - GP referral","d":"2013-12-01","v":10325},{"s":"Radiology - GP referral","d":"2014-01-01","v":10510},{"s":"Radiology - GP referral","d":"2014-02-01","v":8785},{"s":"Radiology - GP referral","d":"2014-03-01","v":8186},{"s":"Radiology - GP referral","d":"2014-04-01","v":7863},{"s":"Radiology - GP referral","d":"2014-05-01","v":8767},{"s":"Radiology - GP referral","d":"2014-06-01","v":8186},{"s":"Radiology - GP referral","d":"2014-07-01","v":7126},{"s":"Radiology - GP referral","d":"2014-08-01","v":7587},{"s":"Radiology - GP referral","d":"2014-09-01","v":7080},{"s":"Radiology - GP referral","d":"2014-10-01","v":6066},{"s":"Radiology - GP referral","d":"2014-11-01","v":5605},{"s":"Radiology - GP referral","d":"2014-12-01","v":5927},{"s":"Radiology - GP referral","d":"2015-01-01","v":5927},{"s":"Radiology - GP referral","d":"2015-02-01","v":4682},{"s":"Radiology - GP referral","d":"2015-03-01","v":3300},{"s":"Radiology - GP referral","d":"2015-04-01","v":3622},{"s":"Radiology - GP referral","d":"2015-05-01","v":4840},{"s":"Radiology - GP referral","d":"2015-06-01","v":4960},{"s":"Radiology - GP referral","d":"2015-07-01","v":5020},{"s":"Radiology - GP referral","d":"2015-08-01","v":5143},{"s":"Radiology - GP referral","d":"2015-09-01","v":5143},{"s":"Radiology - GP referral","d":"2015-10-01","v":4314},{"s":"Radiology - GP referral","d":"2015-11-01","v":3438},{"s":"Radiology - GP referral","d":"2015-12-01","v":3944},{"s":"Radiology - GP referral","d":"2016-01-01","v":4221},{"s":"Radiology - GP referral","d":"2016-02-01","v":2560},{"s":"Radiology - GP referral","d":"2016-03-01","v":1594},{"s":"Radiology - GP referral","d":"2016-04-01","v":1940},{"s":"Radiology - GP referral","d":"2016-05-01","v":1430},{"s":"Radiology - GP referral","d":"2016-06-01","v":1226},{"s":"Radiology - GP referral","d":"2016-07-01","v":1280},{"s":"Radiology - GP referral","d":"2016-08-01","v":1710},{"s":"Radiology - GP referral","d":"2016-09-01","v":2370},{"s":"Radiology - GP referral","d":"2016-10-01","v":2160},{"s":"Radiology - GP referral","d":"2016-11-01","v":2055},{"s":"Radiology - GP referral","d":"2016-12-01","v":2226},{"s":"Radiology - GP referral","d":"2017-01-01","v":1548},{"s":"Radiology - GP referral","d":"2017-02-01","v":670},{"s":"Radiology - GP referral","d":"2017-03-01","v":28},{"s":"Radiology - GP referral","d":"2017-04-01","v":55},{"s":"Radiology - GP referral","d":"2017-05-01","v":304},{"s":"Radiology - GP referral","d":"2017-06-01","v":369},{"s":"Radiology - GP referral","d":"2017-07-01","v":350},{"s":"Radiology - GP referral","d":"2017-08-01","v":350},{"s":"Radiology - GP referral","d":"2017-09-01","v":396},{"s":"Radiology - GP referral","d":"2017-10-01","v":396},{"s":"Radiology - GP referral","d":"2017-11-01","v":396},{"s":"Radiology - GP referral","d":"2017-12-01","v":553},{"s":"Radiology - GP referral","d":"2018-01-01","v":700},{"s":"Radiology - GP referral","d":"2018-02-01","v":304},{"s":"Radiology - GP referral","d":"2018-03-01","v":100}
]},
"data": {"name": "rows"},
"mark": {"type": "line", "strokeCap": "round", "strokeJoin": "round"},
"encoding": {
  "x": {
    "field": "d", "type": "temporal",
    "scale": {"type": "utc", "domain": [{"year": 2009, "month": 10, "date": 1, "utc": true}, {"year": 2018, "month": 2, "date": 18, "utc": true}]},
    "axis": {
      "title": null, "grid": false,
      "tickCount": {"interval": "month", "step": 1},
      "labelExpr": "utcmonth(datum.value) % 3 == 0 ? utcFormat(datum.value, '%b-%y') : ''",
      "labelOverlap": false, "labelAngle": 270, "labelAlign": "right", "labelBaseline": "middle",
      "labelFontSize": 24, "labelColor": "black", "labelPadding": 5, "labelOffset": 5,
      "domainColor": "black", "domainWidth": 1.5, "tickColor": "black", "tickSize": 5, "tickWidth": 1.5,
      "encode": {"ticks": {"update": {"opacity": {"signal": "utcmonth(datum.value) % 2 == 1 ? 1 : 0"}}}}
    }
  },
  "y": {
    "field": "v", "type": "quantitative",
    "scale": {"domain": [0, 12000], "nice": false},
    "axis": {
      "title": "Number of patients", "titleFontSize": 18, "titleFontWeight": "bold", "titleColor": "black",
      "titleAngle": 270, "titleX": -117, "titleY": 248, "titleAlign": "center", "titleBaseline": "middle",
      "values": [0, 2000, 4000, 6000, 8000, 10000, 12000], "format": ",d",
      "labelFontSize": 20, "labelColor": "black", "labelPadding": 12,
      "grid": true, "gridColor": "black", "gridWidth": 1.2,
      "domainColor": "black", "domainWidth": 1.5, "tickColor": "black", "tickSize": 6, "tickWidth": 1.5
    }
  },
  "color": {
    "field": "s", "type": "nominal",
    "scale": {
      "domain": ["Cardiology", "Diagnostic endoscopy", "Imaging", "Neurophysiology", "Physiological measurement", "Radiology - Consultant referral", "Radiology - GP referral"],
      "range": ["#A3C9FF", "#56A3FF", "#C8E0FF", "#56A3FF", "#002F6C", "#0050AA", "#00306E"]
    },
    "legend": {
      "title": " ", "titleOrient": "right", "titlePadding": 70, "titleFontSize": 10,
      "orient": "none", "legendX": 0, "legendY": 566, "columns": 2, "direction": "horizontal",
      "symbolType": "M-4,0H4", "symbolSize": 289, "symbolOffset": 112,
      "labelFontSize": 20, "labelColor": "black", "labelOffset": 26, "labelLimit": 0,
      "strokeColor": "black", "padding": 5, "rowPadding": 1, "columnPadding": 121,
      "encode": {"symbols": {"update": {"strokeCap": {"value": "round"}}}}
    }
  },
  "strokeDash": {
    "field": "s", "type": "nominal",
    "scale": {
      "domain": ["Cardiology", "Diagnostic endoscopy", "Imaging", "Neurophysiology", "Physiological measurement", "Radiology - Consultant referral", "Radiology - GP referral"],
      "range": [[1, 0], [0.01, 13.5], [1, 0], [1, 0], [0.01, 13.5], [1, 0], [1, 0]]
    }
  },
  "strokeWidth": {
    "field": "s", "type": "nominal",
    "scale": {
      "domain": ["Cardiology", "Diagnostic endoscopy", "Imaging", "Neurophysiology", "Physiological measurement", "Radiology - Consultant referral", "Radiology - GP referral"],
      "range": [3.5, 7.5, 4.5, 4.5, 7.5, 5, 5]
    }
  }
}
}
